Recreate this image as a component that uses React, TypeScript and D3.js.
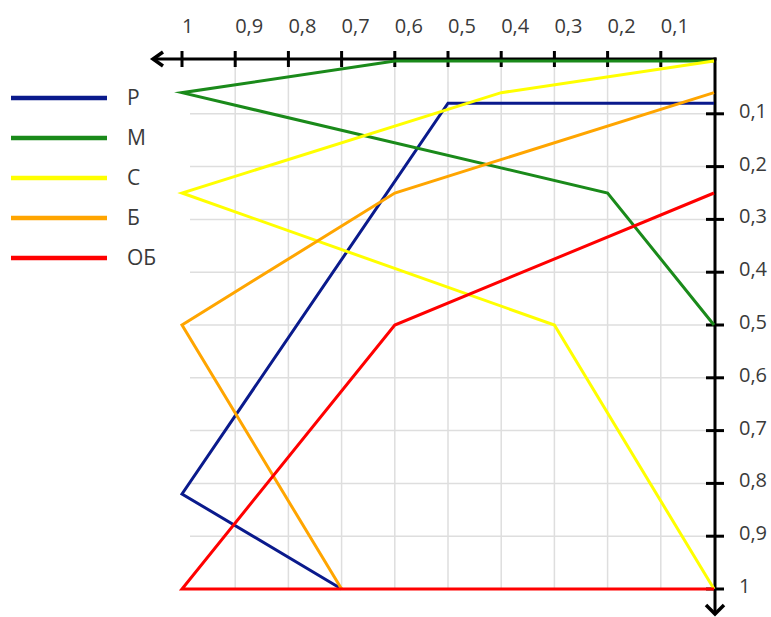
import React from "react";
import * as d3 from "d3";

const xTicks = [1, 0.9, 0.8, 0.7, 0.6, 0.5, 0.4, 0.3, 0.2, 0.1];
const yTicks = [0.1, 0.2, 0.3, 0.4, 0.5, 0.6, 0.7, 0.8, 0.9, 1];
const xGrid = [0.9, 0.8, 0.7, 0.6, 0.5, 0.4, 0.3, 0.2, 0.1];

const seriesNames = ["Р", "М", "С", "Б", "ОБ"];
const seriesColors = ["#0a1a8c", "#1a8a1a", "#ffff00", "#ffa500", "#ff0000"];
const seriesR = [[0, 0.08], [0.5, 0.08], [1, 0.82], [0.7, 1]];
const seriesM = [[0, 0], [0.6, 0], [1, 0.06], [0.2, 0.25], [0, 0.5]];
const seriesC = [[0, 0], [0.4, 0.06], [1, 0.25], [0.3, 0.5], [0, 1]];
const seriesB = [[0, 0.06], [0.6, 0.25], [1, 0.5], [0.7, 1]];
const seriesOB = [[0, 0.25], [0.6, 0.5], [1, 1], [0, 1]];
const allSeries = [seriesR, seriesM, seriesC, seriesB, seriesOB];

const fmt = (v: number) => String(v).replace(".", ",");

export default function App() {
  const W = 771, H = 617;
  const x = d3.scaleLinear().domain([1, 0]).range([182, 714]);
  const y = d3.scaleLinear().domain([0, 1]).range([61, 589]);
  const axisY = y(0) - 2;
  const axisX = x(0) + 1;
  const line = d3.line<number[]>().x(d => x(d[0])).y(d => y(d[1]));
  const font = "'Open Sans', 'Noto Sans', sans-serif";
  const textColor = "#3a3a3a";
  const leftEnd = x(1) - 29;
  const bottomEnd = y(1) + 25;

  return (
    <svg width={W} height={H} style={{ position: "absolute", left: 0, top: 0, background: "#fff" }}>
      {xGrid.map(v => (
        <line key={"gx" + v} x1={x(v)} x2={x(v)} y1={axisY} y2={y(1)} stroke="#dedede" strokeWidth={1.5} />
      ))}
      {yTicks.map(v => (
        <line key={"gy" + v} x1={x(0.985)} x2={axisX} y1={y(v)} y2={y(v)} stroke="#dedede" strokeWidth={1.5} />
      ))}
      <line x1={leftEnd} x2={axisX + 1.5} y1={axisY} y2={axisY} stroke="#000" strokeWidth={3} />
      <path d={`M${leftEnd + 10},${axisY - 7}L${leftEnd},${axisY}L${leftEnd + 10},${axisY + 7}`} fill="none" stroke="#000" strokeWidth={3.5} />
      {xTicks.map(v => (
        <g key={"xt" + v}>
          <line x1={x(v)} x2={x(v)} y1={axisY - 8} y2={axisY + 8} stroke="#000" strokeWidth={3} />
          <text x={x(v)} y={33} fontFamily={font} fontSize={20} fill={textColor}>{fmt(v)}</text>
        </g>
      ))}
      <line x1={axisX} x2={axisX} y1={axisY - 1.5} y2={bottomEnd} stroke="#000" strokeWidth={3} />
      <path d={`M${axisX - 9},${bottomEnd - 9}L${axisX},${bottomEnd}L${axisX + 9},${bottomEnd - 9}`} fill="none" stroke="#000" strokeWidth={3.5} />
      {yTicks.map(v => (
        <g key={"yt" + v}>
          <line x1={axisX - 9} x2={axisX + 9} y1={y(v)} y2={y(v)} stroke="#000" strokeWidth={3} />
          <text x={739} y={y(v) + 4} fontFamily={font} fontSize={20} fill={textColor}>{fmt(v)}</text>
        </g>
      ))}
      {allSeries.map((s, i) => (
        <path key={"s" + i} d={line(s) || ""} fill="none" stroke={seriesColors[i]} strokeWidth={3} strokeMiterlimit={10} />
      ))}
      {seriesNames.map((n, i) => (
        <g key={"lg" + i} transform={`translate(0, ${98 + i * 40})`}>
          <line x1={11} x2={107} y1={0} y2={0} stroke={seriesColors[i]} strokeWidth={4.5} />
          <text x={127} y={7} fontFamily={font} fontSize={21} fill={textColor}>{n}</text>
        </g>
      ))}
    </svg>
  );
}
